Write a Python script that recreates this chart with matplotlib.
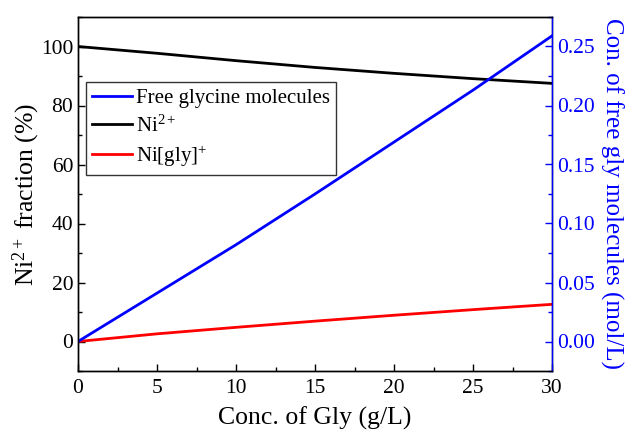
import matplotlib
matplotlib.use("Agg")
import matplotlib.pyplot as plt
from matplotlib.ticker import MultipleLocator, FormatStrFormatter

plt.rcParams['font.family'] = ['Liberation Serif', 'DejaVu Serif']
plt.rcParams['mathtext.fontset'] = 'custom'
plt.rcParams['mathtext.rm'] = 'Liberation Serif'
plt.rcParams['mathtext.it'] = 'Liberation Serif:italic'

gly_conc = [0, 5, 10, 15, 20, 25, 30]
ni_free = [100, 97.7, 95.2, 92.9, 90.9, 89.1, 87.5]
ni_gly = [0, 2.6, 4.8, 6.9, 8.9, 10.8, 12.6]
free_gly = [0, 0.041, 0.082, 0.125, 0.169, 0.213, 0.259]

fig = plt.figure(figsize=(6.32, 4.33), dpi=100)
ax = fig.add_axes([78/632, 1 - 371/433, (552 - 78)/632, (371 - 17)/433])
ax2 = ax.twinx()

l_ni, = ax.plot(gly_conc, ni_free, color='black', lw=2)
l_nigly, = ax.plot(gly_conc, ni_gly, color='#ff0000', lw=2)
l_gly, = ax2.plot(gly_conc, free_gly, color='#0000ff', lw=2)

ax.set_xlim(0, 30)
ax.set_ylim(-10, 110)
ax2.set_ylim(-0.025, 0.275)

ax.xaxis.set_major_locator(MultipleLocator(5))
ax.xaxis.set_minor_locator(MultipleLocator(2.5))
ax.yaxis.set_major_locator(MultipleLocator(20))
ax.yaxis.set_minor_locator(MultipleLocator(10))
ax2.yaxis.set_major_locator(MultipleLocator(0.05))
ax2.yaxis.set_minor_locator(MultipleLocator(0.025))
ax2.yaxis.set_major_formatter(FormatStrFormatter('%.2f'))

ax.tick_params(axis='both', which='both', direction='in', labelsize=15.5, top=False, right=False)
ax.tick_params(which='major', length=5, width=1)
ax.tick_params(which='minor', length=3, width=1)
ax.tick_params(axis='x', pad=6)
ax2.tick_params(axis='y', which='both', direction='in', labelsize=15.5,
                colors='#0000ff', labelcolor='#0000ff')
ax2.tick_params(which='major', length=5, width=1)
ax2.tick_params(which='minor', length=3, width=1)

for s in ax.spines.values():
    s.set_linewidth(1)
for s in ax2.spines.values():
    s.set_linewidth(1)
ax2.spines['right'].set_color('#0000ff')

ax.set_xlabel('Conc. of Gly (g/L)', fontsize=18.5, labelpad=6)
ax.set_ylabel('Ni$^{2+}$ fraction (%)', fontsize=18.5, labelpad=-1)
ax2.set_ylabel('Con. of free gly molecules (mol/L)', fontsize=18, color='#0000ff',
               rotation=270, labelpad=21)

leg = ax2.legend([l_gly, l_ni, l_nigly],
                 ['Free glycine molecules', 'Ni$^{2+}$', 'Ni[gly]$^{+}$'],
                 loc='upper left', bbox_to_anchor=(86/632, 1 - 82/433),
                 bbox_transform=fig.transFigure, fontsize=15, frameon=True,
                 fancybox=False, edgecolor='black', handlelength=1.9,
                 handletextpad=0.2, borderpad=0.3, labelspacing=0.35,
                 borderaxespad=0)
leg.get_frame().set_linewidth(1)

fig.savefig('out.png', dpi=100)
